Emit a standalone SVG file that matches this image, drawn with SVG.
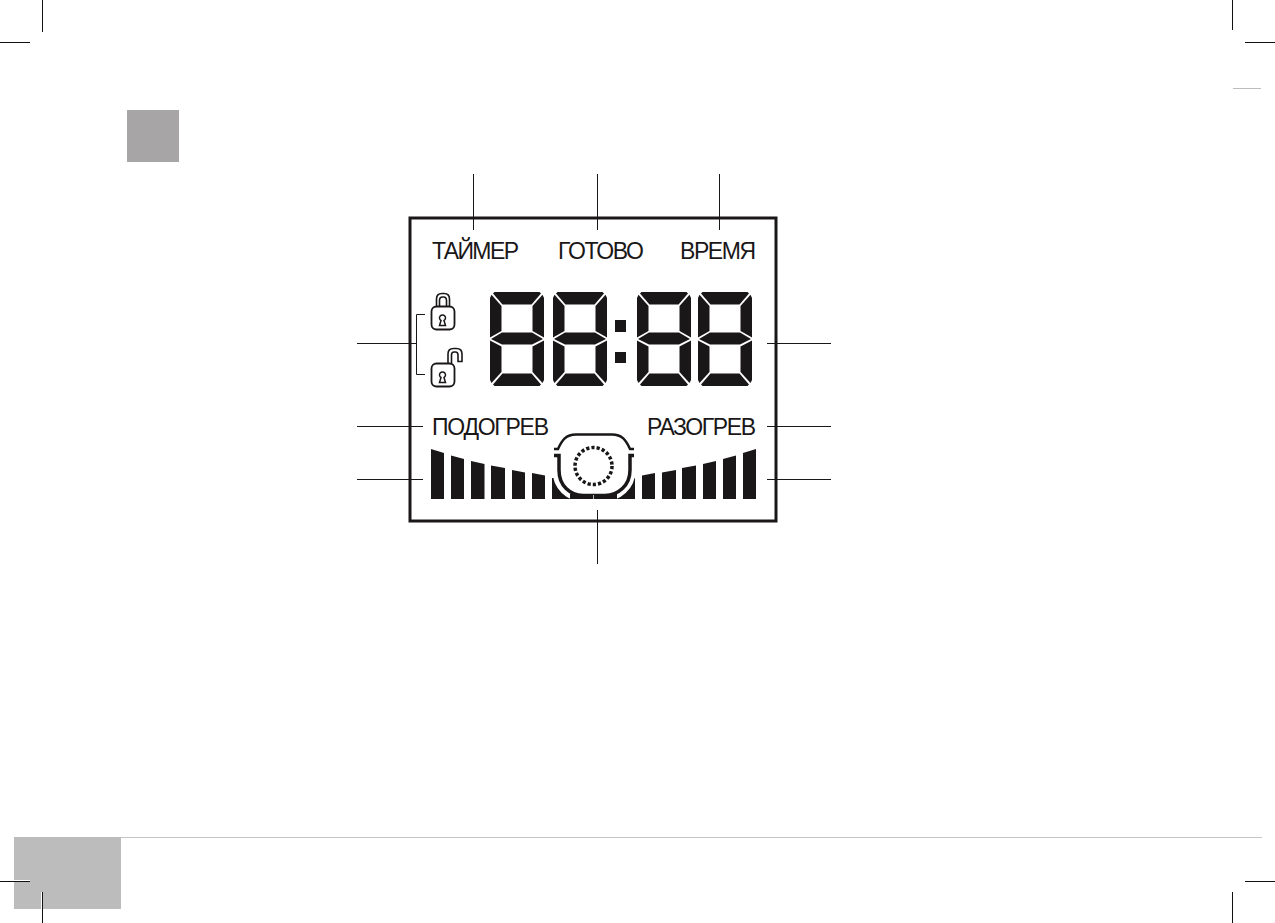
<svg xmlns="http://www.w3.org/2000/svg" width="1275" height="923" viewBox="0 0 1275 923">
<style>
.lead{fill:none;stroke:#1a1718;stroke-width:1}
.crop{fill:none;stroke:#111;stroke-width:1}
.k{fill:#1a1718}
.lbl{font-family:"Liberation Sans",Arial,sans-serif;fill:#1a1718}
.t1{font-size:23px}
.t2{font-size:23px}
.ol{fill:#fff;stroke:#1a1718;stroke-width:1.800}
.sh{fill:none;stroke:#1a1718;stroke-width:1.600}
.key{fill:#fff;stroke:#1a1718;stroke-width:1.500}
</style>
<defs>
<g id="digit" class="k">
<polygon points="4.500,0 49.500,0 51,1.500 41.500,12.500 12.500,12.500 3,1.500"/>
<polygon points="0,6 1.500,2.800 11.500,14 11.500,39 0,45.500"/>
<polygon points="54,6 52.500,2.800 42.500,14 42.500,39 54,45.500"/>
<polygon points="12,40.500 42,40.500 53,47 42,52.500 12,52.500 1,47"/>
<polygon points="0,48.500 11.500,54.500 11.500,80 1.500,91 0,88"/>
<polygon points="54,48.500 42.500,54.500 42.500,80 52.500,91 54,88"/>
<polygon points="12.500,81.500 41.500,81.500 51,92.500 49.500,94 4.500,94 3,92.500"/>
</g>
<path id="keyhole" d="M441 320.500A3 3 0 1 1 444 320.500L445.500 325.500H439.500Z"/>
</defs>
<g id="marks">
<rect x="127" y="110" width="52" height="52" fill="#a7a5a6"/>
<rect x="14" y="837" width="107" height="72" fill="#bcbcbc"/>
<path d="M121 837.500H1262" fill="none" stroke="#c4c4c4" stroke-width="1"/>
<path d="M1233 88.500H1261" fill="none" stroke="#bdbdbd" stroke-width="1"/>
<path d="M14 880.500H30M41.500 892V909" fill="none" stroke="#fff" stroke-width="1"/>
<path class="crop" d="M42.500 0V32M0 42.500H30M1232.500 0V30M1245 42.500H1275M0 881.500H30M42.500 892V923M1245 881.500H1275M1232.500 892V923"/>
</g>
<g id="connectors">
<path class="lead" d="M473.500 174V230M597.500 174V230M719.500 174V230M357 343.500H416M357 426.500H423M357 479.500H423M767 343.500H831M767 426.500H831M767 479.500H831M597.500 510V564"/>
<path class="lead" d="M425 314.500H416.500V374.500H425"/>
</g>
<g id="display">
<rect x="410" y="218" width="366" height="303" fill="none" stroke="#1a1718" stroke-width="3"/>
</g>
<g id="labels">
<text class="lbl t1" x="432" y="258.500" textLength="87" lengthAdjust="spacing">ТАЙМЕР</text>
<text class="lbl t1" x="558" y="258.500" textLength="86" lengthAdjust="spacing">ГОТОВО</text>
<text class="lbl t1" x="680" y="258.500" textLength="76" lengthAdjust="spacing">ВРЕМЯ</text>
<text class="lbl t2" x="432" y="435" textLength="117" lengthAdjust="spacing">ПОДОГРЕВ</text>
<text class="lbl t2" x="647" y="435" textLength="109" lengthAdjust="spacing">РАЗОГРЕВ</text>
</g>
<g id="lock-closed">
<path class="sh" d="M436.500 307V299Q436.500 293.500 442 293.500H444Q449.500 293.500 449.500 299V307"/>
<path class="sh" d="M439.500 307V300.500Q439.500 297 442.500 297H443.500Q446.500 297 446.500 300.500V307"/>
<rect class="ol" x="431.500" y="306.500" width="23" height="23" rx="5"/>
<use href="#keyhole" class="key"/>
</g>
<g id="lock-open">
<path class="sh" d="M448 364V354Q448 348.500 453.500 348.500H456.500Q462 348.500 462 354V361.500H458V355Q458 352 455.500 352H454Q451.500 352 451.500 355V364"/>
<rect class="ol" x="431.500" y="363.500" width="23" height="23" rx="5"/>
<use href="#keyhole" class="key" y="57"/>
</g>
<g id="digits">
<use href="#digit" x="490" y="292"/>
<use href="#digit" x="553" y="292"/>
<use href="#digit" x="637" y="292"/>
<use href="#digit" x="698" y="292"/>
<rect class="k" x="615" y="320" width="11" height="12"/>
<rect class="k" x="615" y="352" width="11" height="11"/>
</g>
<g id="bars" class="k">
<polygon points="431,449 444,453 444,499 431,499"/>
<polygon points="451,455.500 464,459 464,499 451,499"/>
<polygon points="471,461 484.500,464 484.500,499 471,499"/>
<polygon points="491,465.500 505,468 505,499 491,499"/>
<polygon points="512,470 525,472.500 525,499 512,499"/>
<polygon points="532,473 545,475.500 545,499 532,499"/>
<polygon points="756,449 743,453 743,499 756,499"/>
<polygon points="736,455.500 723,459 723,499 736,499"/>
<polygon points="716,461 703,464 703,499 716,499"/>
<polygon points="696,465.500 682,468 682,499 696,499"/>
<polygon points="676,470 662,472.500 662,499 676,499"/>
<polygon points="655,473 642,475.500 642,499 655,499"/>
<polygon points="552,478 635,478 635,499 552,499"/>
</g>
<g id="pot">
<path d="M558.500 456V470C558.500 486 570 495 583 495.500H604C617 495 629.500 486 629.500 470V456" fill="#fff" stroke="#fff" stroke-width="12"/>
<rect x="548" y="499" width="91" height="8" fill="#fff"/>
<rect class="k" x="570" y="494" width="47" height="5"/>
<path d="M554 449H558C562 440 566 434.500 576 434.500H612C622 434.500 626 440 630 449H634" fill="none" stroke="#1a1718" stroke-width="2.500"/>
<path d="M554 455.500H559V470C559 486 570 495 583 495.500H605C618 495 630 486 630 470V455.500H634" fill="none" stroke="#1a1718" stroke-width="3.500"/>
<path d="M593.500 495V499" stroke="#fff" stroke-width="0.700"/>
<circle cx="593.500" cy="466" r="18.500" fill="none" stroke="#1a1718" stroke-width="3.500" stroke-dasharray="3.200 2.080"/>
</g>
</svg>
